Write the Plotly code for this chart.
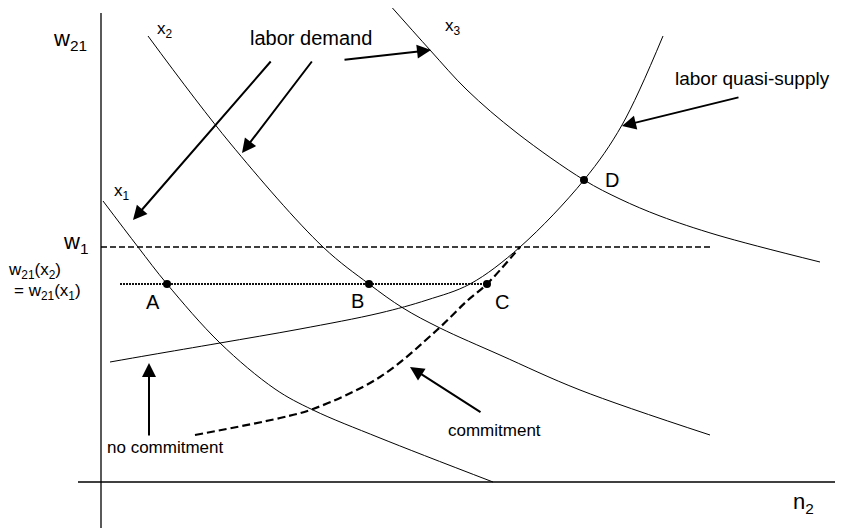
import plotly.graph_objects as go

# diagram coordinates: n2 along the bottom axis, w21 up the side (origin at the axes corner)
x1_n = [2, 37, 66, 119, 174, 212, 279, 392]
x1_w = [281, 235, 198, 139, 93, 72, 44, 0]

x2_n = [47, 129, 222, 268, 302, 339, 399, 479, 609]
x2_w = [446, 339, 235, 198, 174, 154, 127, 92, 47]

x3_n = [287, 329, 366, 416, 483, 519, 559, 616, 719]
x3_w = [479, 432, 392, 349, 302, 283, 266, 247, 220]

supply_n = [9, 49, 119, 199, 279, 326, 369, 419, 483, 521, 562]
supply_w = [120, 127, 139, 153, 169, 182, 198, 235, 302, 357, 446]

commit_n = [94, 179, 212, 279, 336, 366, 386, 419]
commit_w = [47, 64, 73, 105, 152, 181, 198, 235]

w1_level = 235
w1_n = [0, 611]
w21_level = 198
w21_n = [19, 386]

pt_names = ["A", "B", "C", "D"]
pt_n = [66, 268, 386, 483]
pt_w = [198, 198, 198, 302]

# arrows: tail -> head
arrow_tail_n = [171, 212, 242, 639, 48, 381]
arrow_tail_w = [422, 422, 422, 385, 45, 69]
arrow_head_n = [32, 141, 330, 521, 48, 309]
arrow_head_w = [262, 329, 432, 356, 119, 115]

fig = go.Figure()

# axes
fig.add_trace(go.Scatter(x=[0, 0], y=[-46, 469], mode="lines", line=dict(color="black", width=1.3)))
fig.add_trace(go.Scatter(x=[-23, 742], y=[0, 0], mode="lines", line=dict(color="black", width=1.3)))

for xs, ys in [(x1_n, x1_w), (x2_n, x2_w), (x3_n, x3_w), (supply_n, supply_w)]:
    fig.add_trace(go.Scatter(x=xs, y=ys, mode="lines", line=dict(color="black", width=1, shape="spline", smoothing=1)))

fig.add_trace(go.Scatter(x=commit_n, y=commit_w, mode="lines",
                         line=dict(color="black", width=2.2, dash="8px,4px", shape="spline", smoothing=1)))

fig.add_trace(go.Scatter(x=w1_n, y=[w1_level, w1_level], mode="lines",
                         line=dict(color="black", width=1.5, dash="6px,3px")))
fig.add_trace(go.Scatter(x=w21_n, y=[w21_level, w21_level], mode="lines",
                         line=dict(color="#111", width=2, dash="2px,1px")))

fig.add_trace(go.Scatter(x=pt_n, y=pt_w, mode="markers", marker=dict(color="black", size=8)))

for i in range(len(arrow_tail_n)):
    fig.add_annotation(x=arrow_head_n[i], y=arrow_head_w[i], ax=arrow_tail_n[i], ay=arrow_tail_w[i],
                       xref="x", yref="y", axref="x", ayref="y", text="", showarrow=True,
                       arrowhead=2, arrowsize=1.4, arrowwidth=2, arrowcolor="black")

labels = [
    ("w<sub>21</sub>", -31, 442, 22),
    ("x<sub>2</sub>", 64, 452, 17),
    ("labor demand", 210, 444, 20),
    ("x<sub>3</sub>", 352, 455, 17),
    ("labor quasi-supply", 651, 404, 19),
    ("x<sub>1</sub>", 21, 290, 17),
    ("w<sub>1</sub>", -26, 239, 22),
    ("w<sub>21</sub>(x<sub>2</sub>)", -67, 211, 17),
    ("= w<sub>21</sub>(x<sub>1</sub>)", -54, 190, 17),
    ("A", 52, 180, 20),
    ("B", 256, 181, 20),
    ("C", 401, 180, 20),
    ("D", 511, 302, 20),
    ("no commitment", 64, 35, 17),
    ("commitment", 393, 52, 17),
    ("n<sub>2</sub>", 702, -21, 22),
]
for txt, lx, ly, sz in labels:
    fig.add_annotation(x=lx, y=ly, text=txt, showarrow=False, xanchor="center", yanchor="middle",
                       font=dict(family="Liberation Sans, Arial", size=sz, color="black"))

# page body keeps its 8px margin, so the figure is 8px smaller and the ranges start 8px in
fig.update_layout(width=835, height=520, margin=dict(l=0, r=0, t=0, b=0),
                  plot_bgcolor="white", paper_bgcolor="white", showlegend=False,
                  xaxis=dict(visible=False, range=[-93, 742], fixedrange=True),
                  yaxis=dict(visible=False, range=[-46, 474], fixedrange=True))

fig.write_html("out.html")
